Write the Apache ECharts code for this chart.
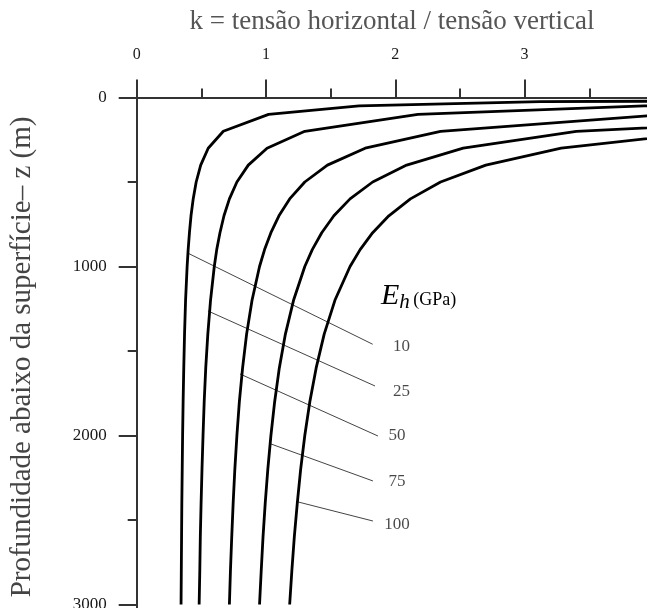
<!DOCTYPE html>
<html>
<head>
<meta charset="utf-8">
<script src="https://cdn.jsdelivr.net/npm/echarts@6/dist/echarts.min.js"></script>
<style>
  html, body { margin: 0; padding: 0; background: #fff; }
  #main { width: 647px; height: 608px; }
</style>
</head>
<body>
<div id="main"></div>
<script>
// profundidade z (m)
var depth = [10, 25, 50, 100, 200, 300, 400, 500, 600, 700, 800, 900, 1000,
             1200, 1400, 1600, 1800, 2000, 2200, 2400, 2600, 2800, 3000];

// k lido em cada profundidade, uma curva por Eh
var k10  = [7.32, 3.12, 1.72, 1.02, 0.67, 0.553, 0.495, 0.46, 0.437, 0.42, 0.408, 0.398, 0.39,
            0.378, 0.37, 0.364, 0.359, 0.355, 0.352, 0.349, 0.347, 0.345, 0.343];
var k25  = [17.93, 7.425, 3.925, 2.175, 1.3, 1.008, 0.863, 0.775, 0.717, 0.675, 0.644, 0.619, 0.6,
            0.571, 0.55, 0.534, 0.522, 0.513, 0.505, 0.498, 0.492, 0.488, 0.483];
var k50  = [35.6, 14.6, 7.6, 4.1, 2.35, 1.767, 1.475, 1.3, 1.183, 1.1, 1.038, 0.989, 0.95,
            0.892, 0.85, 0.819, 0.794, 0.775, 0.759, 0.746, 0.735, 0.725, 0.717];
var k75  = [53.3, 21.8, 11.3, 6.025, 3.4, 2.525, 2.088, 1.825, 1.65, 1.525, 1.431, 1.358, 1.3,
            1.213, 1.15, 1.103, 1.067, 1.038, 1.014, 0.994, 0.977, 0.963, 0.95];
var k100 = [70.95, 28.95, 14.95, 7.95, 4.45, 3.283, 2.7, 2.35, 2.117, 1.95, 1.825, 1.728, 1.65,
            1.533, 1.45, 1.388, 1.339, 1.3, 1.268, 1.242, 1.219, 1.2, 1.183];

var ehNames = ['10', '25', '50', '75', '100'];
var curves = [k10, k25, k50, k75, k100];

// linhas de chamada: ponto na curva -> ponto junto ao rotulo  [k, z]
var leaderStart = [[0.396, 921], [0.551, 1263], [0.799, 1636], [1.027, 2047], [1.247, 2393]];
var leaderEnd   = [[1.825, 1460], [1.843, 1707], [1.866, 2003], [1.827, 2269], [1.827, 2506]];
var labelPos    = [[2.048, 1475], [2.048, 1741], [2.013, 2001], [2.013, 2273], [2.013, 2526]];

var myChart = echarts.init(document.getElementById('main'));
var serif = 'Liberation Serif';

var series = [];
for (var i = 0; i < curves.length; i++) {
  var pts = [];
  for (var j = 0; j < depth.length; j++) {
    pts.push([curves[i][j], depth[j]]);
  }
  series.push({
    name: ehNames[i],
    type: 'line',
    data: pts,
    showSymbol: false,
    symbol: 'none',
    lineStyle: { color: '#000', width: 2.8 },
    z: 3
  });
  series.push({
    type: 'line',
    data: [leaderStart[i], leaderEnd[i]],
    symbol: 'none',
    lineStyle: { color: '#444', width: 1 },
    z: 2
  });
}
series.push({
  type: 'scatter',
  symbolSize: 0,
  data: labelPos.map(function (p, i) { return { name: ehNames[i], value: p }; }),
  label: {
    show: true,
    position: 'inside',
    formatter: '{b}',
    fontFamily: serif,
    fontSize: 17,
    color: '#1a1a1a'
  }
});

function plain(v) { return String(v); }

var option = {
  animation: false,
  backgroundColor: '#fff',
  grid: {
    left: 136.7, top: 97.5, width: 646.5, height: 676,
    containLabel: false, outerBoundsMode: 'none'
  },
  xAxis: {
    type: 'value',
    position: 'top',
    min: 0, max: 5, interval: 1,
    axisLine: { lineStyle: { color: '#333', width: 2 } },
    axisTick: { show: true, length: 18, lineStyle: { color: '#333', width: 2 } },
    minorTick: { show: true, splitNumber: 2, length: 9, lineStyle: { color: '#333', width: 2 } },
    splitLine: { show: false },
    axisLabel: { margin: 35, fontFamily: serif, fontSize: 16, color: '#1a1a1a', formatter: plain }
  },
  yAxis: {
    type: 'value',
    inverse: true,
    min: 0, max: 4000, interval: 1000,
    axisLine: { lineStyle: { color: '#333', width: 2 } },
    axisTick: { show: true, length: 18, lineStyle: { color: '#333', width: 2 } },
    minorTick: { show: true, splitNumber: 2, length: 9, lineStyle: { color: '#333', width: 2 } },
    splitLine: { show: false },
    axisLabel: { margin: 30, fontFamily: serif, fontSize: 17, color: '#1a1a1a', formatter: plain }
  },
  graphic: [
    {
      type: 'text', x: 392, y: 22,
      style: {
        text: 'k = tensão horizontal / tensão vertical',
        font: '27px "Liberation Serif"', fill: '#555',
        textAlign: 'center', textVerticalAlign: 'middle'
      }
    },
    {
      type: 'text', x: 22, y: 357, rotation: Math.PI / 2,
      style: {
        text: 'Profundidade abaixo da superfície– z (m)',
        font: '29px "Liberation Serif"', fill: '#444',
        textAlign: 'center', textVerticalAlign: 'middle'
      }
    },
    {
      type: 'text', x: 381, y: 296,
      style: {
        text: '{e|E}{h|h} {u|(GPa)}',
        textVerticalAlign: 'middle',
        rich: {
          e: { fontFamily: serif, fontStyle: 'italic', fontSize: 30, color: '#1a1a1a' },
          h: { fontFamily: serif, fontStyle: 'italic', fontSize: 21, color: '#1a1a1a', padding: [12, 0, 0, 0] },
          u: { fontFamily: serif, fontSize: 18, color: '#1a1a1a', padding: [8, 0, 0, 0] }
        }
      }
    }
  ],
  series: series
};
myChart.setOption(option);
</script>
</body>
</html>
